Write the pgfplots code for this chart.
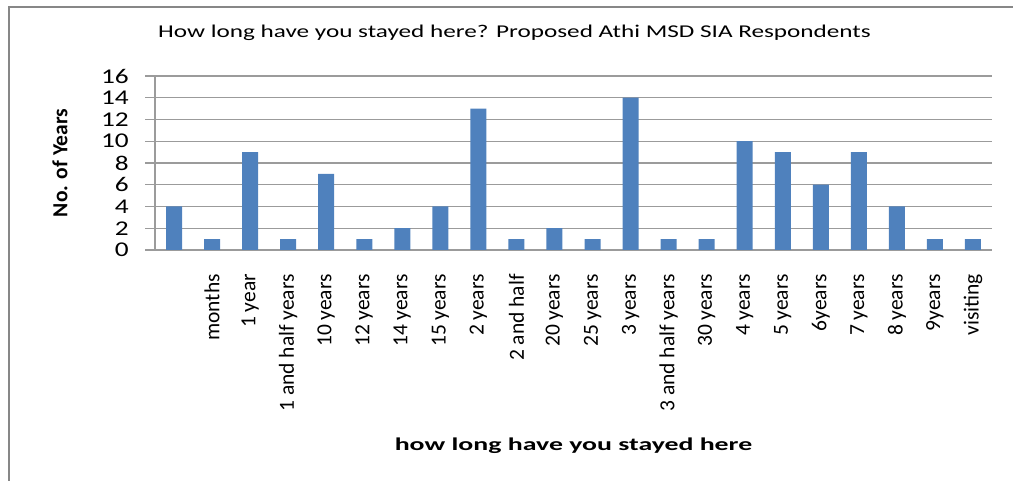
\documentclass[border=0pt]{standalone}
\usepackage{fontspec}
\setmainfont{Carlito}
\usepackage{graphicx}
\usepackage{pgfplots}
\pgfplotsset{compat=1.18}

\definecolor{barblue}{RGB}{79,129,189}
\definecolor{gridgray}{RGB}{155,155,155}
\definecolor{framegray}{RGB}{135,135,135}

\begin{document}
\begin{tikzpicture}
% outer chart frame (left and top edges)
\draw[framegray, line width=2.2bp] (9bp,0bp) -- (9bp,474bp) -- (1013bp,474bp);

\begin{axis}[
  at={(155bp,231bp)}, anchor=south west,
  scale only axis, width=837bp, height=174bp,
  xmin=-0.5, xmax=21.5, ymin=0, ymax=16,
  ybar, bar width=16bp,
  axis x line*=bottom, axis y line*=left,
  axis line style={draw=gridgray, line width=1.2bp, -},
  ymajorgrids, grid style={draw=gridgray, line width=1.2bp},
  tick align=outside, major tick length=10bp,
  xtick style={draw=none},
  ytick style={draw=gridgray, line width=1.2bp},
  ytick={0,2,...,16},
  yticklabel={\scalebox{1.3}[1]{\pgfmathprintnumber[assume math mode=true]{\tick}}},
  yticklabel style={font=\fontsize{21bp}{22bp}\selectfont, anchor=east, inner sep=0pt, xshift=-16bp},
  xtick={0,...,21},
  xticklabels={{},months,1 year,1 and half years,10 years,12 years,14 years,15 years,
    2 years,2 and half,20 years,25 years,3 years,3 and half years,30 years,
    4 years,5 years,6years,7 years,8 years,9years,visiting},
  xticklabel style={font=\fontsize{21.5bp}{22bp}\selectfont, rotate=90, anchor=east, inner sep=0pt, xshift=-14bp},
  title={\scalebox{1.40}[1]{How long have you stayed here? Proposed Athi MSD SIA Respondents}},
  title style={font=\fontsize{18bp}{20bp}\selectfont, at={(axis description cs:0.5,1)},
    anchor=base, inner sep=0pt, xshift=-59bp, yshift=32.7bp},
  xlabel={\scalebox{1.545}[1]{how long have you stayed here}},
  xlabel style={font=\bfseries\fontsize{18bp}{20bp}\selectfont, at={(axis description cs:0.5,0)},
    anchor=base, inner sep=0pt, yshift=-200bp},
  ylabel={No. of Years},
  ylabel style={font=\bfseries\fontsize{21.5bp}{22bp}\selectfont, at={(axis description cs:0,0.5)},
    anchor=center, inner sep=0pt, yshift=95bp},
]
\addplot[fill=barblue, draw=none] coordinates {
  (0,4) (1,1) (2,9) (3,1) (4,7) (5,1) (6,2) (7,4) (8,13) (9,1) (10,2)
  (11,1) (12,14) (13,1) (14,1) (15,10) (16,9) (17,6) (18,9) (19,4) (20,1) (21,1)
};
\end{axis}

\pgfresetboundingbox
\path (0bp,0bp) rectangle (1013bp,481bp);
\end{tikzpicture}
\end{document}
